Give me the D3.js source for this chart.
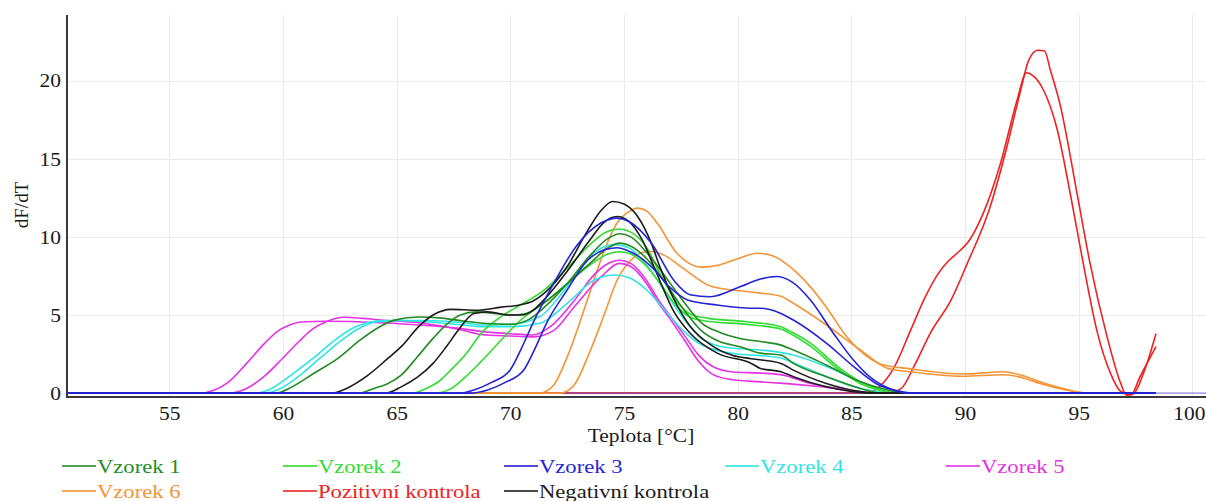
<!DOCTYPE html>
<html>
<head>
<meta charset="utf-8">
<script src="https://cdn.jsdelivr.net/npm/d3@7"></script>
<style>
  html, body { margin: 0; padding: 0; background: #fff; }
  svg { display: block; }
  text { font-family: "Liberation Serif", "Times New Roman", serif; }
</style>
</head>
<body>
<svg id="chart" width="1206" height="501"></svg>
<script>
// Melt curve derivative (dF/dT) per sample, two replicates each: [temperature °C, dF/dT]
const vzorek1 = [
  [[50.5,0],[59.7,0],[60.4,0.4],[61.4,1.3],[62.4,2.2],[63.4,3.4],[64.2,4.2],[64.9,4.67],[66,4.87],[67,4.8],[68,4.6],[69,4.45],[70,4.4],[70.8,4.7],[71.5,5.5],[72.5,7.0],[73.5,8.8],[74.3,9.9],[74.8,10.2],[75.3,10.0],[76,9.0],[76.8,7.5],[77.6,5.9],[78.4,4.5],[79.2,3.9],[80.1,3.5],[81,3.3],[81.9,3.07],[82.45,2.76],[83.9,1.8],[85.4,0.73],[86.6,0.2],[87.3,0],[98.4,0]],
  [[50.5,0],[63.3,0],[64,0.3],[64.6,0.6],[65.2,1.15],[65.9,2.3],[66.6,3.5],[67.2,4.4],[67.8,5.0],[68.5,5.2],[69,5.15],[70,5.0],[70.7,5.1],[71.5,5.8],[72.5,7.0],[73.5,8.3],[74.3,9.3],[74.8,9.6],[75.3,9.4],[76,8.6],[76.8,7.1],[77.6,5.4],[78.4,4.0],[79.2,3.3],[80.1,2.97],[81,2.56],[81.9,2.44],[82.45,1.9],[83.9,1.05],[85.4,0.3],[86.3,0],[98.4,0]]
];
const vzorek2 = [
  [[50.5,0],[65.7,0],[66.3,0.3],[66.9,0.8],[67.4,1.5],[68.1,2.6],[68.7,3.8],[69.6,4.9],[70.4,5.6],[71.5,6.6],[72.5,8.0],[73.5,9.5],[74.2,10.3],[74.8,10.5],[75.3,10.3],[76,9.3],[76.6,7.6],[77.3,5.9],[78,5.0],[78.65,4.8],[80.4,4.57],[81.9,4.25],[82.2,4.04],[83.2,3.2],[84.4,1.7],[85.4,0.73],[86.3,0.2],[87,0],[98.4,0]],
  [[50.5,0],[66.7,0],[67.4,0.3],[68.0,1.0],[68.7,2.0],[69.6,3.4],[70.4,4.6],[71.5,5.8],[72.5,7.0],[73.5,8.2],[74.3,8.9],[74.8,9.05],[75.3,8.9],[76,8.1],[76.6,7.0],[77.3,5.6],[78,4.8],[78.65,4.6],[80.4,4.4],[81.9,4.1],[82.2,3.9],[83.2,3.0],[84.4,1.55],[85.4,0.6],[86.3,0.15],[87,0],[98.4,0]]
];
const vzorek3 = [
  [[50.5,0],[67.8,0],[68.4,0.2],[69.2,0.7],[70,1.5],[70.5,2.9],[71,4.5],[71.9,7.0],[72.9,9.4],[74,10.9],[74.7,11.2],[75.2,11.0],[76.2,9.6],[77.2,7.2],[77.9,6.3],[78.8,6.17],[80.1,6.8],[81,7.3],[81.7,7.46],[82.4,7.1],[83.2,5.96],[84.2,3.85],[85.1,2.1],[85.8,1.05],[86.85,0.2],[87.5,0],[98.4,0]],
  [[50.5,0],[68.3,0],[69,0.2],[69.8,0.7],[70.6,1.5],[71.1,2.9],[71.6,4.5],[72.5,6.6],[73.4,8.5],[74.2,9.2],[74.7,9.3],[75.2,9.1],[76.2,8.1],[77,6.8],[77.8,5.96],[79.1,5.64],[80.6,5.43],[81,5.43],[81.9,5.1],[82.45,4.68],[83.9,3.2],[85.1,1.7],[86.1,0.6],[87.2,0.1],[87.8,0],[98.4,0]]
];
const vzorek4 = [
  [[50.5,0],[58.8,0],[59.5,0.3],[60.4,1.2],[61.3,2.2],[62.3,3.4],[63,4.1],[63.7,4.5],[64.5,4.65],[66,4.65],[68,4.5],[68.7,4.36],[70,4.4],[71.3,4.9],[72.5,6.8],[73.7,9.0],[74.6,9.5],[75.2,9.3],[76,8.2],[76.8,6.5],[77.6,4.8],[78.4,3.5],[79.2,3.0],[80,2.85],[81,2.76],[82.45,2.44],[83.9,1.7],[85.4,0.73],[86.5,0.1],[87,0],[98.4,0]],
  [[50.5,0],[59.2,0],[59.9,0.3],[60.8,1.2],[61.6,2.2],[62.6,3.4],[63.3,4.1],[64.1,4.55],[65,4.65],[66,4.6],[68,4.35],[68.7,4.25],[70,4.25],[71.3,4.47],[72.5,5.75],[73.7,7.24],[74.6,7.56],[75.2,7.4],[76,6.6],[76.8,5.3],[77.6,4.0],[78.4,3.1],[79.2,2.7],[80,2.5],[81,2.4],[82,2.2],[83,1.6],[84,1.0],[85,0.45],[86,0.12],[86.8,0],[98.4,0]]
];
const vzorek5 = [
  [[50.5,0],[56.3,0],[57,0.2],[57.6,0.7],[58.4,1.9],[59.2,3.2],[59.8,4.0],[60.3,4.36],[60.8,4.55],[61.9,4.6],[63,4.58],[64.3,4.5],[66,4.36],[68,4.1],[68.7,3.95],[70,3.8],[71,3.72],[71.8,4.3],[72.8,5.9],[73.7,7.6],[74.3,8.3],[74.8,8.5],[75.3,8.3],[76,7.2],[76.5,6.0],[77,5.0],[77.7,3.6],[78.3,2.4],[78.9,1.7],[79.8,1.35],[81,1.28],[82,1.15],[83,0.7],[84,0.38],[85,0.15],[86,0],[98.4,0]],
  [[50.5,0],[57.6,0],[58.4,0.3],[59.2,1.1],[59.9,2.1],[60.7,3.3],[61.3,4.1],[61.9,4.57],[62.7,4.85],[63.5,4.78],[64.3,4.68],[66,4.5],[68,4.0],[68.7,3.75],[70,3.65],[71,3.6],[71.9,4.0],[72.8,5.5],[74,7.45],[74.8,8.3],[75.3,8.1],[76,7.0],[76.5,5.8],[77,4.8],[77.7,3.3],[78.3,2.0],[78.9,1.2],[79.8,0.85],[81,0.72],[82,0.62],[83,0.5],[84,0.35],[85,0.15],[86.2,0],[98.4,0]]
];
const vzorek6 = [
  [[50.5,0],[71.3,0],[71.9,0.5],[72.5,2.3],[73.4,6.0],[74.1,9.0],[74.7,10.9],[75.2,11.6],[75.6,11.84],[76,11.65],[76.45,10.9],[77.3,9.0],[78.4,8.06],[79.2,8.2],[80,8.6],[80.85,8.95],[81.5,8.8],[82.45,7.9],[83.2,6.8],[83.9,5.5],[84.8,3.6],[85.7,2.33],[86.3,1.85],[87.6,1.55],[89.9,1.22],[91.7,1.37],[92.6,1.09],[93.3,0.73],[94.3,0.3],[95.3,0],[98.4,0]],
  [[50.5,0],[72.2,0],[72.8,0.5],[73.4,2.3],[74.1,4.9],[74.7,7.24],[75.3,8.5],[75.8,9.0],[76.2,9.06],[76.8,8.8],[77.5,8.1],[78.9,6.8],[80.4,6.5],[81,6.4],[81.9,6.2],[82.45,5.75],[83.9,4.36],[85.4,2.76],[86.6,1.58],[87.7,1.35],[89.9,1.08],[91.7,1.17],[92.6,0.95],[93.3,0.62],[94.3,0.25],[95.5,0],[98.4,0]]
];
const pozitivniKontrola = [
  [[50.5,0],[85.7,0],[86.3,0.5],[86.9,1.7],[87.6,4.0],[88.2,6.0],[88.8,7.6],[89.3,8.5],[89.65,8.95],[90.2,9.8],[90.8,11.5],[91.56,14.7],[92.3,18.8],[92.7,20.5],[93.0,20.3],[93.45,19.4],[94.05,16.9],[94.6,13.0],[95.2,8.3],[95.8,4.0],[96.4,1.26],[96.85,0.1],[97.3,-0.1],[97.7,1.05],[98.4,2.97]],
  [[50.5,0],[86.6,0],[87.2,0.3],[87.75,1.7],[88.5,3.9],[89.4,6.0],[90.1,8.3],[91.1,11.9],[91.85,15.8],[92.45,19.4],[92.8,21.3],[93.2,21.94],[93.5,21.9],[93.75,20.7],[94.2,18.35],[94.9,13.0],[95.5,8.3],[96.25,3.6],[96.85,0.62],[97.1,-0.13],[97.4,-0.05],[97.9,1.47],[98.4,3.8]]
];
const negativniKontrola = [
  [[50.5,0],[62.2,0],[62.8,0.3],[63.7,1.1],[64.6,2.2],[65.2,2.97],[66,4.3],[66.6,5.0],[67.4,5.36],[68.5,5.3],[69.6,5.5],[70.4,5.64],[71,5.9],[71.5,6.4],[72.5,8.1],[73.4,10.4],[74,11.7],[74.5,12.26],[75,12.1],[75.6,11.3],[76.2,9.6],[76.6,8.0],[77.2,6.0],[77.9,4.3],[78.8,3.1],[79.8,2.4],[80.6,2.2],[81.9,1.9],[82.45,1.47],[83.9,0.62],[85.4,0.1],[86.2,0],[98.4,0]],
  [[50.5,0],[64.5,0],[65.2,0.4],[65.9,1.0],[66.6,1.9],[67.2,3.0],[67.7,4.0],[68.4,5.1],[69,5.2],[70,5.0],[70.5,5.0],[71,5.3],[71.5,6.0],[72.5,7.8],[73.5,9.8],[74.1,10.9],[74.7,11.3],[75.2,11.0],[75.8,9.8],[76.4,7.8],[77.2,5.2],[77.9,3.85],[79.1,2.56],[80.6,1.9],[81,1.58],[81.9,1.37],[82.45,1.05],[83.9,0.4],[85,0.1],[85.8,0],[98.4,0]]
];

const seriesNames = ["Vzorek 1", "Vzorek 2", "Vzorek 3", "Vzorek 4", "Vzorek 5",
                     "Vzorek 6", "Pozitivní kontrola", "Negativní kontrola"];
const seriesData = [vzorek1, vzorek2, vzorek3, vzorek4, vzorek5, vzorek6, pozitivniKontrola, negativniKontrola];
const seriesColors = ["#238b23", "#2fdc2f", "#2424d4", "#2ee4e4", "#e433e4", "#f39436", "#ee2222", "#1c1c1c"];

const xTicks = [55, 60, 65, 70, 75, 80, 85, 90, 95, 100];
const yTicks = [0, 5, 10, 15, 20];
const xDomain = [50.5, 100.6];
const yDomain = [-0.25, 24.2];

// ---- layout ----
const W = 1206, H = 501;
const plot = { left: 67, right: 1206, top: 15, bottom: 397 };
const textStretch = 1.13;

const svg = d3.select("#chart");
const x = d3.scaleLinear().domain(xDomain).range([plot.left, plot.right]);
const y = d3.scaleLinear().domain(yDomain).range([plot.bottom, plot.top]);

// grid
const grid = svg.append("g").attr("stroke", "#ebebeb").attr("stroke-width", 1);
grid.selectAll("line.v").data(xTicks).join("line")
  .attr("x1", d => Math.round(x(d)) + 0.5).attr("x2", d => Math.round(x(d)) + 0.5)
  .attr("y1", plot.top).attr("y2", plot.bottom);
grid.selectAll("line.h").data(yTicks.filter(d => d > 0)).join("line")
  .attr("y1", d => Math.round(y(d)) + 0.5).attr("y2", d => Math.round(y(d)) + 0.5)
  .attr("x1", plot.left).attr("x2", plot.right);

// axes
const xAxis = svg.append("g")
  .attr("transform", `translate(0,${plot.bottom})`)
  .call(d3.axisBottom(x).tickValues(xTicks).tickSize(0).tickPadding(5).tickFormat(d3.format("d")));
const yAxis = svg.append("g")
  .attr("transform", `translate(${plot.left},0)`)
  .call(d3.axisLeft(y).tickValues(yTicks).tickSize(0).tickPadding(6).tickFormat(d3.format("d")));

[xAxis, yAxis].forEach(a => {
  a.select(".domain").remove();
  a.selectAll("text")
    .attr("fill", "#1a1a1a")
    .style("font-size", "19px")
    .style("font-family", "'Liberation Serif', 'Times New Roman', serif");
});
xAxis.selectAll(".tick text").attr("transform", `scale(${textStretch},1)`)
  .attr("x", 0).attr("dy", "0.95em");
// keep the last label inside the right edge
xAxis.selectAll(".tick text").filter(d => d === 100)
  .attr("text-anchor", "end").attr("x", (plot.right - x(100) - 1) / textStretch);
yAxis.selectAll(".tick text").attr("transform", `scale(${textStretch},1)`)
  .attr("x", -6 / textStretch).attr("dy", "0.33em");

// curves
const line = d3.line().x(d => x(d[0])).y(d => y(d[1])).curve(d3.curveMonotoneX);
const curves = svg.append("g").attr("fill", "none").attr("stroke-width", 1.6)
  .attr("stroke-linejoin", "round");
const drawPair = i => seriesData[i].forEach(rep => {
  curves.append("path").attr("d", line(rep)).attr("stroke", seriesColors[i]);
});

// positive control sits underneath the zero reference line
drawPair(6);
curves.append("line")
  .attr("x1", plot.left).attr("x2", plot.right)
  .attr("y1", y(0)).attr("y2", y(0))
  .attr("stroke", "#6b5ce0").attr("stroke-width", 1.2).attr("opacity", 0.75);
[5, 4, 3, 1, 0, 7, 2].forEach(drawPair);

// axis lines
svg.append("line").attr("x1", plot.left).attr("x2", plot.left)
  .attr("y1", plot.top).attr("y2", plot.bottom + 1)
  .attr("stroke", "#3a3a3a").attr("stroke-width", 2);
svg.append("line").attr("x1", plot.left - 1).attr("x2", plot.right)
  .attr("y1", plot.bottom).attr("y2", plot.bottom)
  .attr("stroke", "#3a3a3a").attr("stroke-width", 2);

// axis titles
svg.append("text")
  .attr("transform", `translate(641,442) scale(${textStretch},1)`)
  .attr("text-anchor", "middle").attr("fill", "#1a1a1a")
  .style("font-size", "19px").text("Teplota [°C]");
svg.append("text")
  .attr("transform", "translate(28,205) rotate(-90)")
  .attr("text-anchor", "middle").attr("fill", "#1a1a1a")
  .style("font-size", "19px").text("dF/dT");

// legend
const legendCols = [62, 283, 504, 725, 946];
const legendRows = [466, 491];
const legend = svg.append("g");
seriesNames.forEach((name, i) => {
  const cx = legendCols[i % 5], cy = legendRows[Math.floor(i / 5)];
  const g = legend.append("g").attr("transform", `translate(${cx},${cy})`);
  g.append("line").attr("x1", 0).attr("x2", 34).attr("y1", 0).attr("y2", 0)
    .attr("stroke", seriesColors[i]).attr("stroke-width", 2).attr("opacity", 0.8);
  g.append("text")
    .attr("transform", `translate(35,6.5) scale(${textStretch + 0.03},1)`)
    .attr("fill", seriesColors[i])
    .style("font-size", "19.5px").text(name);
});
</script>
</body>
</html>
